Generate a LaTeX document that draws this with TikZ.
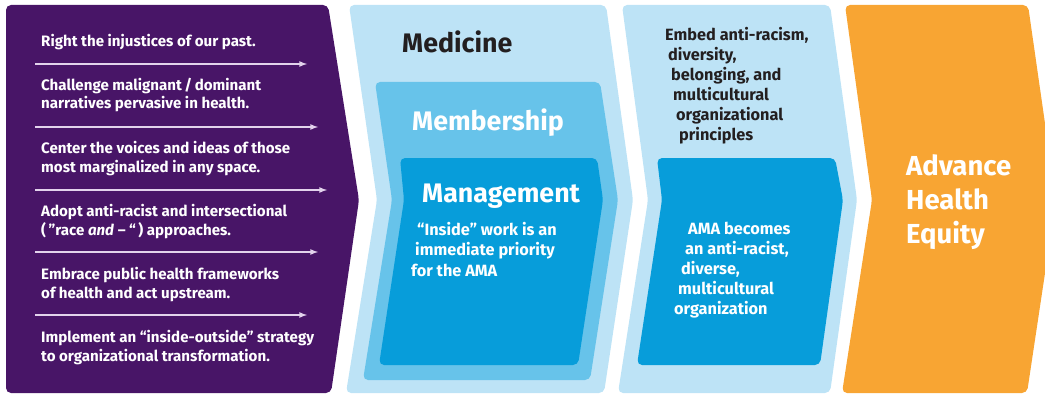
\documentclass[tikz,border=0pt]{standalone}
\usepackage{fontspec}
\setmainfont{Fira Sans}
\definecolor{amapurple}{HTML}{481567}
\definecolor{medblue}{HTML}{BDE3F6}
\definecolor{memblue}{HTML}{67C3EA}
\definecolor{mgtblue}{HTML}{079DDA}
\definecolor{equityorange}{HTML}{F8A533}
\definecolor{arrowlilac}{HTML}{E3D3EC}
\definecolor{inkblack}{HTML}{231F20}
\begin{document}
\begin{tikzpicture}[x=1pt,y=-1pt,line join=round,>=latex]
	\tikzset{every node/.style={inner sep=0pt,align=left,anchor=base west},
		body/.style={font=\fontsize{15.1}{18.7}\selectfont\bfseries,white},
		inner/.style={font=\fontsize{16.3}{20}\selectfont\bfseries},
		title/.style={font=\fontsize{26.8}{30}\selectfont\bfseries},
		panel/.style={rounded corners=5pt}}
	\useasboundingbox (0,0) rectangle (1045,396);
	\clip (0,0) rectangle (1045,396);
	\begin{scope}
		\fill[amapurple,panel] (6,5)--(328,5)--(359,200)--(331,393)--(6,393)--cycle;
		\fill[medblue,panel] (349,5)--(606,5)--(633,200)--(604,393)--(346,393)--(377,200)--cycle;
		\fill[memblue,panel] (375,82)--(600,82)--(618,200)--(590,380)--(363,380)--(392,200)--cycle;
		\fill[mgtblue,panel] (400,158)--(597,158)--(603,200)--(578,365)--(379,365)--(404,200)--cycle;
		\fill[medblue,panel] (622,5)--(830,5)--(857,200)--(830,393)--(618,393)--(648,200)--cycle;
		\fill[mgtblue,panel] (657,158)--(835,158)--(843,200)--(820,365)--(637,365)--(662,200)--cycle;
		\fill[equityorange,panel] (845,5)--(1028,5)--(1056,200)--(1027,393)--(842,393)--(872,200)--cycle;
	\end{scope}
	\foreach \y/\x in {64/307,127/318,190/327,252/318,315/307}{
		\coordinate (s\y) at (35,\y);
		\coordinate (e\y) at (\x,\y);
		\draw[->,arrowlilac,line width=1.6pt] (s\y)--(e\y);
	}
	\node[body] (right) at (41,47) {Right the injustices of our past.};
	\node[body] (challenge) at (41,109) {Challenge malignant\,/\,dominant\\narratives pervasive in health.};
	\node[body] (center) at (41,172) {Center the voices and ideas of those\\most marginalized in any space.};
	\node[body] (adopt) at (41,235) {Adopt anti-racist and intersectional\\(\,”race \textit{and} – “\,) approaches.};
	\node[body] (embrace) at (41,298) {Embrace public health frameworks\\of health and act upstream.};
	\node[body] (implement) at (41,361) {Implement an “inside-outside” strategy\\to organizational transformation.};
	\node[title,inkblack] (medicine) at (402,53) {Medicine};
	\node[title,white] (membership) at (412,130) {Membership};
	\node[title,white] (management) at (422,202) {Management};
	\node[inner,white,font=\fontsize{16.3}{20.5}\selectfont\bfseries] (inside) at (411,276) {\hspace*{6pt}“Inside” work is an\\\hspace*{4pt}immediate priority\\for the AMA};
	\node[inner,inkblack] (embed) at (665,140) {Embed anti-racism,\\\hspace*{3pt}diversity,\\\hspace*{6pt}belonging, and\\\hspace*{8pt}multicultural\\\hspace*{11pt}organizational\\\hspace*{14pt}principles};
	\node[inner,white] (becomes) at (674,314) {\hspace*{14pt}AMA becomes\\\hspace*{11pt}an anti-racist,\\\hspace*{7pt}diverse,\\\hspace*{4pt}multicultural\\organization};
	\node[white,font=\fontsize{27.5}{34}\selectfont\bfseries] (equity) at (906,243) {Advance\\Health\\Equity};
\end{tikzpicture}
\end{document}
